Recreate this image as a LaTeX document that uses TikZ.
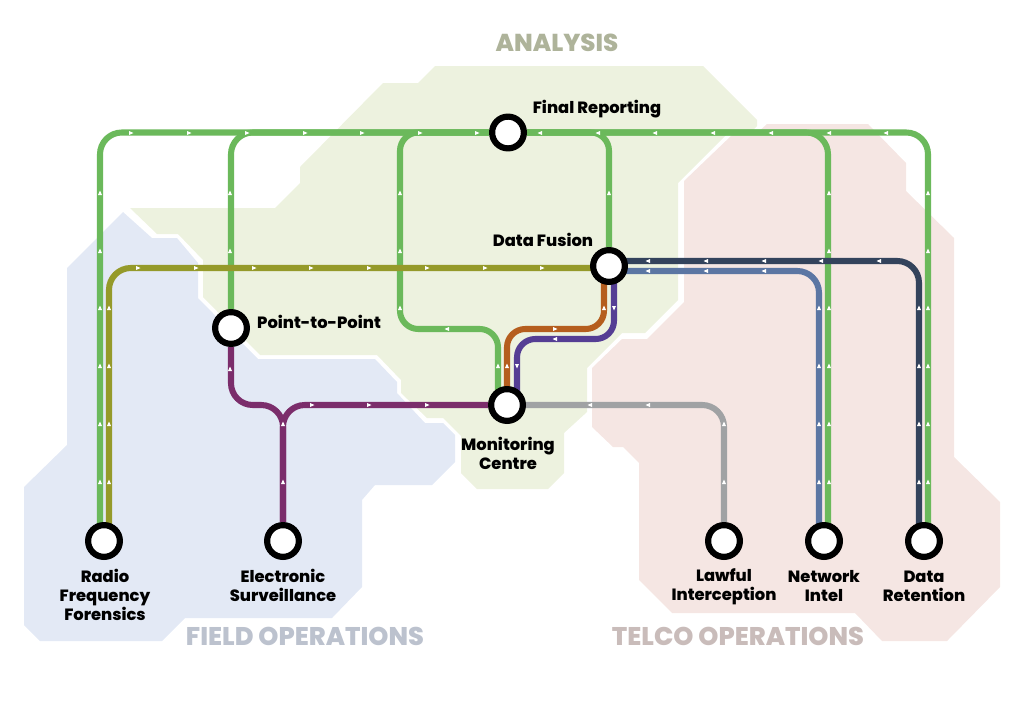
\documentclass[tikz,border=0pt]{standalone}
\usepackage{xcolor}
\usepackage{tikz}
\usepackage{fontspec}
\usetikzlibrary{backgrounds}
\setmainfont{Poppins}[BoldFont={Poppins ExtraBold}]

\definecolor{analysisbg}{HTML}{EDF2DF}
\definecolor{fieldbg}{HTML}{E3E9F5}
\definecolor{telcobg}{HTML}{F5E6E3}
\definecolor{analysisfg}{HTML}{AEB39A}
\definecolor{fieldfg}{HTML}{BCC2CE}
\definecolor{telcofg}{HTML}{C9BCBA}
\definecolor{linegreen}{HTML}{6BB95B}
\definecolor{lineolive}{HTML}{959A2A}
\definecolor{linemaroon}{HTML}{7B2D6B}
\definecolor{lineorange}{HTML}{B55E1E}
\definecolor{lineviolet}{HTML}{553E94}
\definecolor{linegrey}{HTML}{A0A2A4}
\definecolor{lineblue}{HTML}{5B76A3}
\definecolor{linenavy}{HTML}{33435C}

\tikzset{
  station/.style={circle, draw=black, fill=white, line width=4.4pt, minimum size=22.6pt, inner sep=0pt},
  stationlabel/.style={font=\bfseries\fontsize{11.6}{13.5}\selectfont, align=center, text=black},
  arealabel/.style={font=\bfseries\fontsize{18.2}{20}\selectfont},
  metro/.style={line width=4.3pt, rounded corners=15.5pt},
  metrotight/.style={line width=4.3pt, rounded corners=13pt},
}

\begin{document}
\begin{tikzpicture}[x=0.25mm, y=-0.25mm]
  \useasboundingbox (0,0) rectangle (1024,724);

  % stations
  \node[station] (final) at (508,132.5) {};
  \node[station] (fusion) at (609,266) {};
  \node[station] (monitoring) at (507,405) {};
  \node[station] (ptp) at (231,328) {};
  \node[station] (radio) at (104,541) {};
  \node[station] (electronic) at (283,541) {};
  \node[station] (lawful) at (724,541) {};
  \node[station] (network) at (824,541) {};
  \node[station] (retention) at (924,541) {};

  \begin{scope}[on background layer]
    % areas
    \fill[fieldbg] (123,212) -- (67,268) -- (67,445) -- (24,487) -- (24,625) -- (40,641) -- (162,641) -- (185,618)
      -- (332,618) -- (362,587) -- (362,500) -- (375,485) -- (432,485) -- (455,462) -- (455,435) -- (443,423)
      -- (425,423) -- (397,393) -- (397,382) -- (375,359) -- (258,359) -- (198,298) -- (198,263) -- (177,238)
      -- (152,238) -- cycle;
    \fill[telcobg] (767,124) -- (868,124) -- (906,163) -- (906,191) -- (954,238) -- (954,457) -- (1000,502)
      -- (1000,587) -- (947,641) -- (882,641) -- (855,613) -- (672,613) -- (639,580) -- (639,463) -- (623,447)
      -- (613,447) -- (592,427) -- (592,368) -- (622,339) -- (647,339) -- (684,302) -- (684,181) -- (732,135)
      -- (757,133) -- cycle;
    \fill[analysisbg] (130,208) -- (275,208) -- (300,183) -- (300,167) -- (383,83) -- (418,83) -- (435,66)
      -- (703,66) -- (757,120) -- (757,126) -- (752,131) -- (726,135) -- (678,183) -- (678,300) -- (645,333)
      -- (622,333) -- (587,368) -- (587,412) -- (564,433) -- (564,473) -- (548,489) -- (477,489) -- (461,473)
      -- (461,436) -- (443,418) -- (427,418) -- (401,393) -- (401,380) -- (377,355) -- (260,355) -- (203,297)
      -- (203,260) -- (178,234) -- (157,234) -- cycle;

    % lines
    \draw[metro, linegreen] ([xshift=-1mm]radio.center) |- (final);
    \draw[metro, linegreen] (ptp) |- (final);
    \draw[metrotight, linegreen] ([xshift=-2.25mm]monitoring.center) -- ++(0,-76) -- ++(-98,0) |- (final);
    \draw[metrotight, linegreen] (fusion) |- (final);
    \draw[metro, linegreen] ([xshift=1mm]network.center) |- (final);
    \draw[metro, linegreen] ([xshift=1mm]retention.center) |- (final);
    \draw[metro, lineolive] ([xshift=1.25mm]radio.center) |- ([yshift=-0.5mm]fusion.center);
    \draw[metro, linemaroon] (ptp) |- (283,405) -- (electronic);
    \draw[metro, linemaroon] (electronic) |- (monitoring);
    \draw[metrotight, lineorange] (monitoring.center) -- ++(0,-76) -| ([xshift=-1.25mm]fusion.center);
    \draw[metrotight, lineviolet] ([xshift=2.5mm]monitoring.center) -- ++(0,-66) -| ([xshift=1.25mm]fusion.center);
    \draw[metro, linegrey] (monitoring) -| (lawful);
    \draw[metro, linenavy] ([yshift=1.25mm]fusion.center) -| ([xshift=-1.25mm]retention.center);
    \draw[metro, lineblue] ([yshift=-1.25mm]fusion.center) -| ([xshift=-1.25mm]network.center);
  \end{scope}

  % direction marks
  \foreach \y/\xlist in {
      133/{131,189,247,305,362,420,477},
      268/{138,196,254,311,369,427,485,542},
      405/{312,369,427},
      329/{555},
    } {
      \foreach \x in \xlist {
        \fill[white] (\x-2,\y-2) -- (\x+2.5,\y) -- (\x-2,\y+2) -- cycle;
      }
    }
  \foreach \y/\xlist in {
      133/{540,598,655,713,771,829,886},
      329/{447},
      339/{555},
      405/{590,648},
      261/{648,706,764,821,879},
      271/{648,706,764},
    } {
      \foreach \x in \xlist {
        \fill[white] (\x+2,\y-2) -- (\x-2.5,\y) -- (\x+2,\y+2) -- cycle;
      }
    }
  \foreach \x/\ylist in {
      100/{193,251,308,366,424,482},
      109/{308,366,424,482},
      230/{193,251,369},
      283/{424,482},
      400/{193,251,308},
      498/{366},
      507/{366},
      604/{308},
      609/{193},
      724/{424,482},
      819/{308,366,424,482},
      829/{193,251,308,366,424,482},
      919/{308,366,424,482},
      928/{193,251,308,366,424,482},
    } {
      \foreach \y in \ylist {
        \fill[white] (\x-2,\y+2) -- (\x,\y-2.5) -- (\x+2,\y+2) -- cycle;
      }
    }
  \foreach \x/\y in {517/366, 614/308} {
    \fill[white] (\x-2,\y-2) -- (\x,\y+2.5) -- (\x+2,\y-2) -- cycle;
  }

  % labels
  \node[stationlabel] (finaltext) at (597,109.5) {Final Reporting};
  \node[stationlabel] (fusiontext) at (543,240) {Data Fusion};
  \node[stationlabel] (ptptext) at (319,322) {Point-to-Point};
  \node[stationlabel] (monitoringtext) at (508,453) {Monitoring\\Centre};
  \node[stationlabel] (radiotext) at (105,595) {Radio\\Frequency\\Forensics};
  \node[stationlabel] (electronictext) at (283,585) {Electronic\\Surveillance};
  \node[stationlabel] (lawfultext) at (724,587) {Lawful\\Interception};
  \node[stationlabel] (networktext) at (824,586) {Network\\Intel};
  \node[stationlabel] (retentiontext) at (924,586) {Data\\Retention};
  \node[arealabel, font=\bfseries\fontsize{17.4}{20}\selectfont, text=analysisfg] (analysistext) at (557,43) {ANALYSIS};
  \node[arealabel, text=fieldfg] (fieldtext) at (305,636) {FIELD OPERATIONS};
  \node[arealabel, text=telcofg] (telcotext) at (738,636) {TELCO OPERATIONS};
\end{tikzpicture}
\end{document}
